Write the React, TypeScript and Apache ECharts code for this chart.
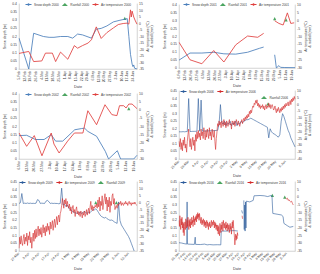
import React, { useEffect, useRef } from "react";
import * as echarts from "echarts";

// ---------- tick labels ----------
const ticks2000 = ["5-Feb","12-Feb","19-Feb","26-Feb","4-Mar","11-Mar","18-Mar","25-Mar","1-Apr","8-Apr","15-Apr","22-Apr","29-Apr","6-May","13-May","20-May","27-May","3-Jun","10-Jun","17-Jun","24-Jun"];
const ticks2001 = ["6-Feb","13-Feb","20-Feb","27-Feb","6-Mar","13-Mar","20-Mar","27-Mar","3-Apr","10-Apr","17-Apr","24-Apr","1-May","8-May","15-May","22-May","29-May","5-Jun","12-Jun","19-Jun"];
const ticks2002 = ["6-Mar","13-Mar","20-Mar","27-Mar","3-Apr","10-Apr","17-Apr","24-Apr","1-May","8-May","15-May","22-May","29-May","5-Jun","12-Jun","19-Jun"];
const ticks2006 = ["21-Mar","28-Mar","4-Apr","11-Apr","18-Apr","25-Apr","2-May","9-May","16-May","23-May","30-May","6-Jun"];
const ticks2009 = ["27-Mar","3-Apr","10-Apr","17-Apr","24-Apr","1-May","8-May","15-May","22-May","29-May","5-Jun","12-Jun"];
const ticks2016 = ["31-Jan","7-Feb","14-Feb","21-Feb","28-Feb","6-Mar","13-Mar","20-Mar","27-Mar","3-Apr","10-Apr","17-Apr","24-Apr","1-May","8-May","15-May","22-May","29-May","5-Jun"];

type Pt = [number, number | string];

// ---------- 2000 (x = days after first tick) ----------
const snow2000: Pt[] = [[0,0.19],[12,0],[18,0.22],[30,0.2],[37,0.195],[43,0.195],[51,0.2],[60,0.2],[66,0.19],[72,0.215],[78,0.21],[89,0.19],[95,0.245],[101,0.25],[108,0.265],[116,0.29],[124,0.3],[133,0.31],[135,0.2],[137,0.09],[139,0.03],[140,0.015],[141,0.025],[142,0.005],[145,0]];
const temp2000: Pt[] = [[0,-23],[12,-21.5],[18,-29.3],[28,-28.8],[32.5,-22.8],[41,-22.8],[45,-29.3],[51,-22],[60,-27.5],[68,-17],[72,-19],[78,-17],[85,-15],[89,-12.5],[95,-2.6],[101,-11.5],[108,-7],[116,-3.4],[122,-0.8],[128,0],[133,0.3],[135,-0.5],[137,10.5],[138,5],[139,9.5],[141,5],[143,2],[145,-0.5]];
const rain2000: Pt[] = [[130,3.9]];

// ---------- 2001 ----------
const snow2001: Pt[] = [[0,0.05],[13,0.095],[27,0.095],[41,0.1],[53,0.09],[67,0.088],[81,0.1],[95,0.125],[100,0.133],[100.5,"-"],[113,0.084],[115,0],[118,0.015],[120,0.004],[125,0.003],[137,0.002]];
const temp2001: Pt[] = [[0,-13.7],[13,-24.8],[27,-27.3],[41,-18.9],[53,-26.2],[67,-15.3],[81,-9.7],[93,-10.5],[100,-8],[100.5,"-"],[113,0],[118,-1.7],[123,-2.7],[128,5],[132,-1.7],[136,-1.3]];
const rain2001: Pt[] = [[113,1.3],[126.5,0.6]];

// ---------- 2002 ----------
const snow2002: Pt[] = [[0,0.144],[7,0.146],[15,0.12],[23,0.12],[29.5,0.15],[33.5,0.11],[40,0.11],[51,0.18],[57,0.187],[60,0.19],[63,0.17],[71,0.14],[79,0.047],[82,0],[90,0.051],[93,0],[105,0],[108,0.023]];
const temp2002: Pt[] = [[0,-14],[7,-22.2],[14,-15.6],[21,-28],[29.5,-14],[32,-20.8],[36.7,-26.3],[44.5,-19],[50.7,-14],[58.5,-14],[63,-0.3],[71,-8.9],[78.7,3.4],[85,-2.7],[89.6,-3.3],[92,2.8],[95.8,2.8],[98,1.4],[100.5,3.8],[103.5,3.8],[108,1]];
const rain2002: Pt[] = [[100.5,1.0]];

// ---------- 2006 (daily snow, half-daily temperature) ----------
const snow2006Daily = [0.18,0.18,0.18,0.181,0.18,0.181,0.182,0.40,0.182,0.182,0.183,0.183,0.183,0.184,0.40,0.184,0.39,0.185,0.185,0.185,0.186,0.186,0.187,0.187,0.187,0.188,0.188,0.189,0.19,0.23,0.36,0.24,0.23,0.25,0.22,0.24,0.23,0.25,0.22,0.24,0.23,0.25,0.22,0.24,0.23,0.25,0.24,0.25,0.255,0.26,0.26,0.265,0.27,0.265,0.26,0.255,0.25,0.245,0.24,0.235,0.23,0.225,0.22,0.215,0.21,0.14,0.2,0.18,0.17,0.165,0.16,0.15,0.145,0.16,0.25,0.3,0.28,0.25,0.22,0.19,0.17,0.14,0.12,0.1,0.08];
const temp2006HalfDaily = [
  -27,-31,-25,-33,-28,-34,-26,-30,-24,-32,
  -29,-35,-27,-22,-18,-26,-31,-25,-33,-28,
  -24,-30,-26,-34,-22,-27,-20,-25,-19,-24,
  -21,-26,-18,-23,-20,-25,-17,-22,-26,-19,
  -24,-18,-21,-25,-17,-23,-20,-26,-18,-22,
  -24,-19,-27,-33,-25,-20,-14,-16,-12,-15,
  -13,-17,-12,-14,-16,-11,-15,-13,-17,-12,
  -14,-16,-13,-11,-15,-14,-18,-12,-13,-15,
  -12,-16,-14,-11,-13,-15,-12,-14,-16,-13,
  -13,-11,-14,-12,-10,-12,-9,-11,-8,-10,
  -7,-9,-5,-7,-4,-6,-3,-1,-2,1,
  0,3,1,3.5,-1,1,-2,0,-3,-1,
  -2,0,-3,-1,-4,-2,0,-3,-1,-2,
  1,-2,0,-3,-1,0,-2,-4,-3,-1,
  -4,-6,-3,-5,-2,-4,-6,-3,-5,-2,
  -4,-1,-3,0,-2,1,-1,0,2,-1,
  1,3,0,4,2,5,3,6,4
];
const rain2006: Pt[] = [[64.5,0.5]];

// ---------- 2009 ----------
const snow2009Daily = [0.31,0.315,0.375,0.31,0.312,0.31,0.313,0.31,0.312,0.31,0.311,0.31,0.312,0.335,0.33,0.31,0.312,0.311,0.31,0.325,0.33,0.322,0.31,0.312,0.31,0.311,0.31,0.31,0.308,0.31,0.41,0.3,0.305,0.29,0.3,0.28,0.27,0.265,0.255,0.25,0.248,0.245,0.25,0.255,0.245,0.25,0.26,0.25,0.245,0.255,0.25,0.26,0.27,0.268,0.275,0.265,0.25,0.235,0.225,0.22,0.215,0.22,0.21,0.205,0.2,0.202,0.198,0.19,0.185,0.18,0.32,0.2,0.17,0.155,0.14,0.125,0.11,0.095,0.075,0.05,0.025,0];
const temp2009HalfDaily = [
  -33,-25,-30,-24,-29,-31,-26,-23,-30,-25,
  -28,-22,-31,-24,-27,-21,-29,-25,-33,-26,
  -22,-28,-20,-26,-19,-25,-21,-17,-24,-19,
  -23,-18,-25,-20,-16,-22,-18,-24,-17,-21,
  -15,-20,-17,-23,-14,-19,-16,-13,-20,-15,
  -12,-18,-14,-10,-16,-11,-9,-14,-8,-6,
  -2,3,0,-4,2,-1,3,-3,1,-2,
  -4,-1,-6,-3,-8,-4,-2,-7,-5,-10,
  -5,-3,-8,-6,-9,-7,-10,-6,-8,-11,
  -7,-9,-6,-10,-8,-5,-9,-6,-4,-8,
  -3,1,-5,-2,-6,-3,-4,-2,-3,-1,
  -4,2,-3,4,-6,1,-2,5,-5,0,
  3,6.5,-1,4,-6,2,-3,4,-7,1,
  -2,5,6.5,-1,3,-5,-3,-2,-4,-1,
  -2,0,-1,1,-2,0,-1,-2,0,-1,
  1,-1,0,-2,0,1,-1,0,-2,0,
  -1,0,-1,0.5,-1,-1.5,-2
];
const rain2009: Pt[] = [[54,0],[68.5,0]];

// ---------- 2016 ----------
const snow2016: Pt[] = [[0,0.054],[3,0.052],[6,0.048],[9,0.045],[9.5,0.32],[10,0.045],[14,0.044],[18,0.043],[19,0.09],[19.5,0.043],[25,0.042],[30,0.045],[33,0.04],[36,0.042],[40,0.04],[45,0.041],[49,0.04],[49.5,0.13],[55,0.13],[60,0.132],[65,0.133],[69,0.13],[70,"-"],[73.5,0.265],[74.5,0.245],[75,"-"],[76,0.33],[76.5,0.14],[77,0.3],[77.5,0.13],[78,0.32],[78.5,0.15],[79,0.325],[83,0.32],[87,0.33],[88,0.36],[95,0.362],[100,0.36],[104,0.355],[108,0.362],[109,0.36],[110,0.245],[115,0.24],[120,0.235],[122,0.225],[123,0.18],[127,0.165],[130,0.155],[134,0.16]];
const temp2016HalfDaily = [
  -15,-19,-12,-17,-21,-14,-18,-13,-20,-16,
  -23,-17,-25,-19,-16,-21,-14,-18,-20,-15,
  -19,-13,-17,-21,-15,-19,-14,-20,-16,-18,
  -13,-17,-15,-19,-12,-16,-14,-18,-13,-15,
  -12,-16,-11,-14,-10,-13,-11,-15,-10.5,-13,
  -14,-17,-13,-16,-18,-15,-17,-14,-16,-19,
  -15,-18,-16,-20,-17,-15,-19,-16,-18,-21,
  -17,-19,-16,-18,-20,-17,-15,-19,-18,-16,
  -18,-15,-17,-20,-16,-19,-17,-21,-18,-20,
  -22,-18,-24,-19,-21,-25,-17,-20,-23,-18,
  -21,-16,-19,-22,-15,-18,-20,-17,-19,-21,
  -16,-20,-18,-22,-17,-19,-21,-18,-23,-20,
  -17,-21,-19,-24,-18,-16,-20,-15,-19,-22,
  -26,-31,-27,-24,-28,-25,-27,-23,-25
];
const temp2016Late: Pt[] = [[70,"-"],[74,-12],[74.5,-14],[75,"-"],[125,-0.5],[126,-1],[127,-0.5],[128,-2],[129,-1.5],[130,-2.5],[131,-3],[132,-2.5],[133,-4],[134,-5]];
const rain2016: Pt[] = [[109.5,1.3],[124,0.2]];

// ---------- helpers ----------
const seq = (vals: number[], start: number, step: number): Pt[] => vals.map((v, i) => [start + i * step, v]);

const S = 2;
const FONT = "Liberation Sans, Arial, sans-serif";
const TXT = "#404040";
const AXIS = "#a6a6a6";
const GREEN = "#1f8f3a";

interface Panel {
  year: string; box: number[]; xMax: number; yMax: number; tMin: number; tMax: number;
  rot: number; dateGap: number; ticks: string[]; snow: Pt[]; temp: Pt[]; rain: Pt[];
  lw: number; blue: string; red: string;
}

const panels: Panel[] = [
  { year: "2000", box: [19, 4, 118, 65], xMax: 145, yMax: 0.4, tMin: -35, tMax: 15, rot: 90, dateGap: 16, ticks: ticks2000, snow: snow2000, temp: temp2000, rain: rain2000, lw: 0.85, blue: "#4a7ebb", red: "#e0403f" },
  { year: "2001", box: [179, 5, 116, 63], xMax: 137, yMax: 0.4, tMin: -30, tMax: 10, rot: 90, dateGap: 16, ticks: ticks2001, snow: snow2001, temp: temp2001, rain: rain2001, lw: 0.85, blue: "#4a7ebb", red: "#e0403f" },
  { year: "2002", box: [19, 94, 118, 65], xMax: 108, yMax: 0.4, tMin: -30, tMax: 10, rot: 90, dateGap: 16, ticks: ticks2002, snow: snow2002, temp: temp2002, rain: rain2002, lw: 0.85, blue: "#4a7ebb", red: "#e0403f" },
  { year: "2006", box: [179, 91, 116, 68], xMax: 84, yMax: 0.45, tMin: -40, tMax: 10, rot: 45, dateGap: 15, ticks: ticks2006, snow: seq(snow2006Daily, 0, 1), temp: seq(temp2006HalfDaily, 0, 0.5), rain: rain2006, lw: 0.6, blue: "#2a5a9a", red: "#d42a2a" },
  { year: "2009", box: [19, 182, 118, 69], xMax: 83, yMax: 0.45, tMin: -35, tMax: 15, rot: 45, dateGap: 16, ticks: ticks2009, snow: seq(snow2009Daily, 0, 1), temp: seq(temp2009HalfDaily, 0, 0.5), rain: rain2009, lw: 0.6, blue: "#2a5a9a", red: "#d42a2a" },
  { year: "2016", box: [179, 182, 116, 69], xMax: 136, yMax: 0.45, tMin: -35, tMax: 10, rot: 45, dateGap: 16, ticks: ticks2016, snow: snow2016, temp: [...seq(temp2016HalfDaily, 0, 0.5), ...temp2016Late], rain: rain2016, lw: 0.6, blue: "#2a5a9a", red: "#d42a2a" },
];

const legendDefs = [
  { left: 25, top: 3, data: ["Snow depth 2000", "Rainfall 2000", "Air temperature 2000"] },
  { left: 183, top: 3, data: ["Snow depth 2001", "Rainfall 2001", "Air temperature 2001"] },
  { left: 25, top: 93, data: ["Snow depth 2002", "Rainfall 2002", "Air temperature 2002"] },
  { left: 180, top: 90, data: ["Snow depth 2006", "Air temperature 2006"] },
  { left: 261, top: 96, data: ["Rainfall 2006"] },
  { left: 19, top: 181, data: ["Snow depth 2009", "Air temperature 2009", "Rainfall 2009"] },
  { left: 180, top: 181, data: ["Snow depth 2016", "Rainfall 2016", "Air temperature 2016"] },
];

function buildOption() {
  const txt = (size: number) => ({ fontSize: size * S, color: TXT, fontFamily: FONT });
  const grid = panels.map((p) => ({ left: p.box[0] * S, top: p.box[1] * S, width: p.box[2] * S, height: p.box[3] * S, containLabel: false }));
  const xAxis = panels.map((p, i) => ({
    type: "value", gridIndex: i, min: 0, max: p.xMax, interval: 7,
    axisLine: { show: true, onZero: false, lineStyle: { color: AXIS, width: 1 } },
    axisTick: { show: false }, splitLine: { show: false },
    axisLabel: { ...txt(3.4), rotate: p.rot, margin: 2 * S, formatter: (v: number) => (v % 7 === 0 ? p.ticks[v / 7] ?? "" : "") },
    name: "Date", nameLocation: "middle", nameGap: p.dateGap * S, nameTextStyle: txt(3.8),
  }));
  const yAxis: any[] = [];
  panels.forEach((p, i) => {
    yAxis.push({
      type: "value", gridIndex: i, position: "left", min: 0, max: p.yMax, interval: 0.05,
      axisLine: { show: true, lineStyle: { color: AXIS, width: 1 } }, axisTick: { show: false }, splitLine: { show: false },
      axisLabel: { ...txt(3.4), margin: 2 * S },
      name: "Snow depth (m)", nameLocation: "middle", nameGap: 12 * S, nameTextStyle: txt(3.6),
    });
    yAxis.push({
      type: "value", gridIndex: i, position: "right", min: p.tMin, max: p.tMax, interval: 5,
      axisLine: { show: true, lineStyle: { color: AXIS, width: 1 } }, axisTick: { show: false }, splitLine: { show: false },
      axisLabel: { ...txt(3.4), margin: 2 * S },
      name: "Air temperature (°C)\n& rainfall (mm)", nameLocation: "middle", nameGap: 9 * S,
      nameTextStyle: { ...txt(3.4), lineHeight: 4 * S },
    });
  });
  const series: any[] = [];
  panels.forEach((p, i) => {
    series.push({ type: "line", name: `Snow depth ${p.year}`, xAxisIndex: i, yAxisIndex: 2 * i, data: p.snow, symbol: "none", connectNulls: false, lineStyle: { width: p.lw * S, color: p.blue }, itemStyle: { color: p.blue } });
    series.push({ type: "line", name: `Air temperature ${p.year}`, xAxisIndex: i, yAxisIndex: 2 * i + 1, data: p.temp, symbol: "none", connectNulls: false, lineStyle: { width: p.lw * S, color: p.red }, itemStyle: { color: p.red } });
    series.push({ type: "scatter", name: `Rainfall ${p.year}`, xAxisIndex: i, yAxisIndex: 2 * i + 1, data: p.rain, symbol: "triangle", symbolSize: 3.2 * S, itemStyle: { color: GREEN } });
  });
  const legend = legendDefs.map((l) => ({
    left: l.left * S, top: l.top * S, data: l.data, orient: "horizontal", padding: 0,
    itemWidth: 6 * S, itemHeight: 3 * S, itemGap: 3 * S, selectedMode: false, textStyle: txt(3.2),
  }));
  return { animation: false, backgroundColor: "#ffffff", grid, xAxis, yAxis, series, legend };
}

export default function App() {
  const ref = useRef<HTMLDivElement>(null);
  useEffect(() => {
    const chart = echarts.init(ref.current!, null, { renderer: "svg", width: 320 * S, height: 274 * S });
    chart.setOption(buildOption() as any);
    return () => chart.dispose();
  }, []);
  return (
    <div style={{ position: "fixed", left: 0, top: 0, width: 320, height: 274, overflow: "hidden", background: "#fff" }}>
      <div ref={ref} style={{ width: 320 * S, height: 274 * S, transform: `scale(${1 / S})`, transformOrigin: "0 0" }} />
    </div>
  );
}
